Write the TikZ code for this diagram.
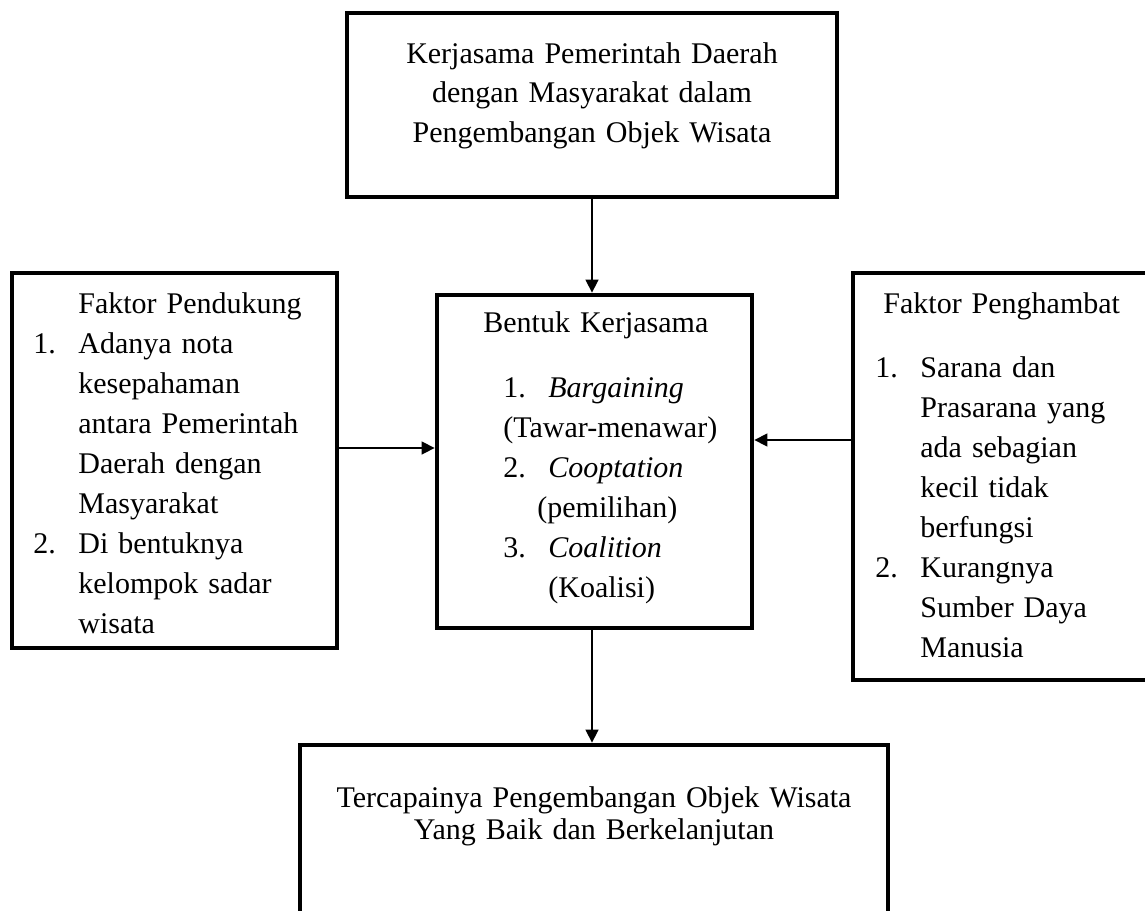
\documentclass[tikz,border=0pt]{standalone}
\usepackage{fontspec}
\setmainfont{Liberation Serif}
\usepackage{tikz}
\usetikzlibrary{positioning,arrows.meta}
\newcommand{\butir}[1]{\makebox[22.5pt][l]{#1}}
\newcommand{\sela}[1]{\hspace*{#1}}

\begin{document}
\begin{tikzpicture}[x=0.5pt,y=-0.5pt]
\tikzstyle{every node}+=[inner sep=0pt]
\tikzstyle{kotak}=[draw=black,line width=2.4pt,rectangle]
\tikzstyle{teks}=[font=\fontsize{15pt}{20pt}\selectfont]
\tikzstyle{panah}=[black,line width=0.75pt,-{Triangle[length=6.5pt,width=6.5pt]}]
\useasboundingbox (0,0) rectangle (1145,910);
\clip (0,0) rectangle (1145,910);
\node [kotak,minimum width=245pt,minimum height=92pt] (kerjasama) at (592,105) {};
\node [kotak,minimum width=162.5pt,minimum height=187.5pt] (pendukung) at (174.5,460.5) {};
\node [kotak,minimum width=157.5pt,minimum height=166.5pt] (bentuk) at (594.5,461.5) {};
\node [kotak,minimum width=149.5pt,minimum height=203.5pt] (penghambat) at (1002.5,476.5) {};
\node [kotak,minimum width=294pt,minimum height=92.5pt] (hasil) at (594,837.5) {};
\node [teks,anchor=base,text width=235pt,align=center,font=\fontsize{15pt}{19.75pt}\selectfont] (judulkerjasama) at (592,63) {Kerjasama Pemerintah Daerah\\ dengan Masyarakat dalam\\ Pengembangan Objek Wisata};
\node [teks,anchor=base west,text width=152pt,align=left] (isipendukung) at (33,313) {\sela{22.5pt}Faktor Pendukung\\
\butir{1.}Adanya nota\\
\sela{22.5pt}kesepahaman\\
\sela{22.5pt}antara Pemerintah\\
\sela{22.5pt}Daerah dengan\\
\sela{22.5pt}Masyarakat\\
\butir{2.}Di bentuknya\\
\sela{22.5pt}kelompok sadar\\
\sela{22.5pt}wisata};
\node [teks,anchor=base west,text width=145pt,align=left] (isibentuk) at (483,332) {Bentuk Kerjasama\\[12.5pt]
\sela{10pt}\butir{1.}\textit{Bargaining}\\
\sela{10pt}(Tawar-menawar)\\
\sela{10pt}\butir{2.}\textit{Cooptation}\\
\sela{27pt}(pemilihan)\\
\sela{10pt}\butir{3.}\textit{Coalition}\\
\sela{32.5pt}(Koalisi)};
\node [teks,anchor=base west,text width=130pt,align=left] (isipenghambat) at (875,313) {\sela{4pt}Faktor Penghambat\\[12pt]
\butir{1.}Sarana dan\\
\sela{22.5pt}Prasarana yang\\
\sela{22.5pt}ada sebagian\\
\sela{22.5pt}kecil tidak\\
\sela{22.5pt}berfungsi\\
\butir{2.}Kurangnya\\
\sela{22.5pt}Sumber Daya\\
\sela{22.5pt}Manusia};
\node [teks,anchor=base,text width=285pt,align=center,font=\fontsize{15pt}{16pt}\selectfont] (isihasil) at (594,807) {Tercapainya Pengembangan Objek Wisata\\ Yang Baik dan Berkelanjutan};
\coordinate (kiri) at ([yshift=6.25pt]pendukung.east);
\coordinate (kanan) at ([yshift=18.25pt]penghambat.west);
\coordinate (bawah) at (kerjasama.south |- bentuk.south);
\draw [panah] (kerjasama.south) -- (kerjasama.south |- bentuk.north);
\draw [panah] (bawah) -- (bawah |- hasil.north);
\draw [panah] (kiri) -- (kiri -| bentuk.west);
\draw [panah] (kanan) -- (kanan -| bentuk.east);
\end{tikzpicture}
\end{document}
